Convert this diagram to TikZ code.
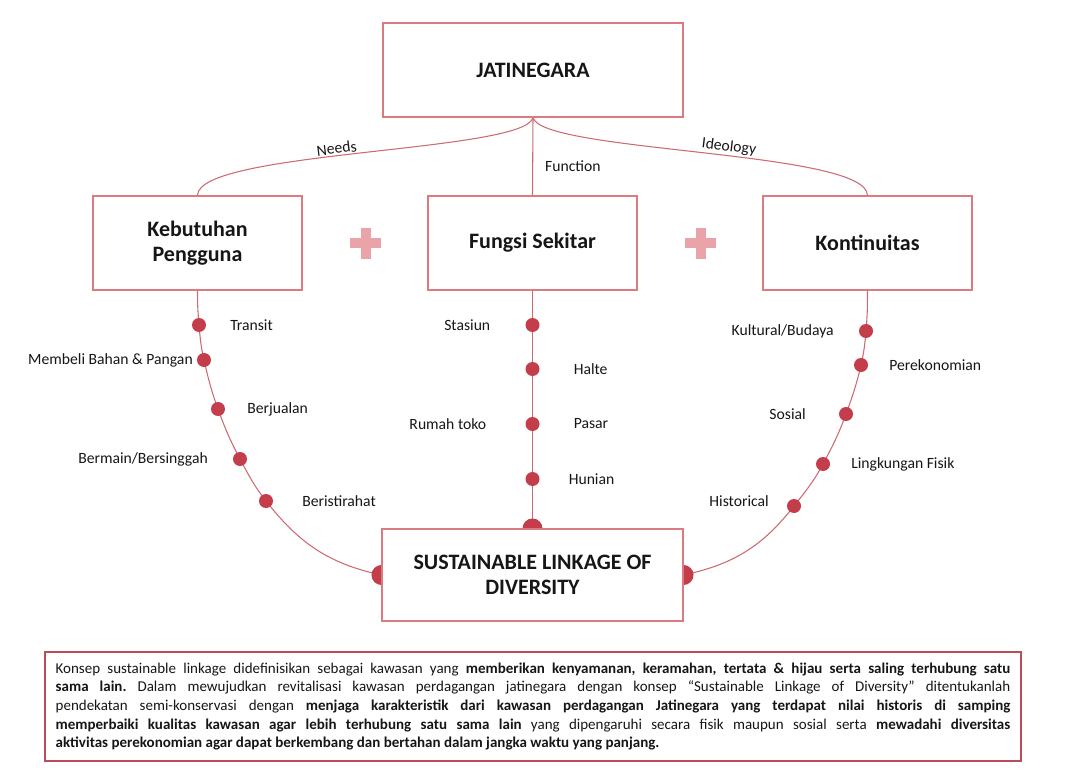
\documentclass[tikz,border=0pt]{standalone}
\usepackage{fontspec}
\setmainfont{Carlito}
\usetikzlibrary{positioning,backgrounds}
\definecolor{slRose}{HTML}{DB7A80}
\definecolor{slLine}{HTML}{CC6B71}
\definecolor{slDot}{HTML}{C43D4A}
\definecolor{slPlus}{HTML}{E9A3A9}
\definecolor{slFrame}{HTML}{B94E59}
\definecolor{slInk}{HTML}{161616}
\tikzset{
  sl box/.style={draw=slRose, fill=white, line width=0.8pt, minimum width=156.75pt, minimum height=70.5pt, align=center, text=slInk, font=\fontsize{16.5}{18.75}\selectfont\bfseries},
  sl link/.style={draw=slLine, line width=0.8pt},
  sl dot/.style={circle, fill=slDot, minimum size=10.5pt, inner sep=0pt},
  sl end/.style={circle, fill=slDot, minimum size=15pt, inner sep=0pt},
  sl label/.style={font=\fontsize{11.75}{14}\selectfont, text=slInk, inner sep=1pt},
  sl plus/.style={draw=slPlus, line width=7.5pt},
  sl desc/.style={draw=slFrame, line width=1.1pt, text width=716pt, inner sep=8pt, minimum height=80.25pt, align=justify, text=slInk, font=\fontsize{11.25}{14}\selectfont},
}
\begin{document}
\begin{tikzpicture}[x=0.75pt,y=-0.75pt]
\useasboundingbox (0,0) rectangle (1068,781);
% main boxes
\node[sl box, minimum width=225pt] (jat) at (533,70) {JATINEGARA};
\node[sl box, text depth=2pt] (kebutuhan) at (197.5,243) {Kebutuhan\\Pengguna};
\node[sl box] (fungsi) at (532.5,243) {Fungsi Sekitar};
\node[sl box] (kontinuitas) at (867.5,243) {Kontinuitas};
\node[sl box, minimum width=225.75pt, minimum height=69pt] (sld) at (532.5,575) {SUSTAINABLE LINKAGE OF\\DIVERSITY};
\draw[sl plus] (350,243) -- (381,243) (365.5,228) -- (365.5,259);
\draw[sl plus] (685,243) -- (716,243) (700.5,228) -- (700.5,259);
% dots
\foreach \n/\x/\y in {k1/199/325,k2/204/360,k3/218/409,k4/240/459,k5/266/501,
  f1/532.5/325,f2/532.5/369,f3/532.5/424,f4/532.5/479,
  r1/866/331,r2/861/365,r3/846/414,r4/823/464,r5/794/506}
  \node[sl dot] (\n) at (\x,\y) {};
% labels
\node[sl label, right=22.25pt] at (k1) {Transit};
\node[sl label, left=7.25pt] at (k2) {Membeli Bahan \& Pangan};
\node[sl label, right=20.75pt] at (k3) {Berjualan};
\node[sl label, left=23pt] at (k4) {Bermain/Bersinggah};
\node[sl label, right=26pt] at (k5) {Beristirahat};
\node[sl label, left=30.5pt] at (f1) {Stasiun};
\node[sl label, right=29.75pt] at (f2) {Halte};
\node[sl label, left=33.5pt] at (f3) {Rumah toko};
\node[sl label, right=29.75pt] at (f3) {Pasar};
\node[sl label, right=26pt] at (f4) {Hunian};
\node[sl label, left=23pt] at (r1) {Kultural/Budaya};
\node[sl label, right=20pt] at (r2) {Perekonomian};
\node[sl label, left=29pt] at (r3) {Sosial};
\node[sl label, right=20pt] at (r4) {Lingkungan Fisik};
\node[sl label, left=17.75pt, yshift=3.5pt] at (r5) {Historical};
% connectors
\begin{pgfonlayer}{background}
\draw[sl link] (jat.south) .. controls +(-8,35) and +(0,-45) .. node[sl label, pos=0.55, sloped, above] {Needs} (kebutuhan.north);
\draw[sl link] (jat.south) -- node[sl label, pos=0.63, right=8pt] {Function} (fungsi.north);
\draw[sl link] (jat.south) .. controls +(8,35) and +(0,-45) .. node[sl label, pos=0.55, sloped, above] {Ideology} (kontinuitas.north);
\draw[sl link] (kebutuhan.south) to[out=-90,in=95] (k1.center) to[out=-85,in=103] (k2.center)
  to[out=-77,in=110] (k3.center) to[out=-70,in=118] (k4.center) to[out=-62,in=128] (k5.center)
  to[out=-52,in=168] (sld.west);
\draw[sl link] (fungsi.south) -- (sld.north);
\draw[sl link] (kontinuitas.south) to[out=-90,in=85] (r1.center) to[out=-95,in=77] (r2.center)
  to[out=-103,in=70] (r3.center) to[out=-110,in=62] (r4.center) to[out=-118,in=52] (r5.center)
  to[out=-128,in=12] (sld.east);
\node[sl end] (eTop) at (sld.north) {};
\node[sl end] (eLeft) at (sld.west) {};
\node[sl end] (eRight) at (sld.east) {};
\end{pgfonlayer}
% description
\node[sl desc] (desc) at (533,706.5) {\frenchspacing\tolerance=9999\hyphenpenalty=10000 Konsep sustainable linkage didefinisikan sebagai kawasan yang \textbf{memberikan kenyamanan, keramahan, tertata \& hijau serta saling terhubung satu\linebreak sama lain.} Dalam mewujudkan revitalisasi kawasan perdagangan jatinegara dengan konsep “Sustainable Linkage of Diversity” ditentukanlah\linebreak pendekatan semi-konservasi dengan \textbf{menjaga karakteristik dari kawasan perdagangan Jatinegara yang terdapat nilai historis di samping\linebreak memperbaiki kualitas kawasan agar lebih terhubung satu sama lain} yang dipengaruhi secara fisik maupun sosial serta \textbf{mewadahi diversitas\linebreak aktivitas perekonomian agar dapat berkembang dan bertahan dalam jangka waktu yang panjang.}};
\end{tikzpicture}
\end{document}
